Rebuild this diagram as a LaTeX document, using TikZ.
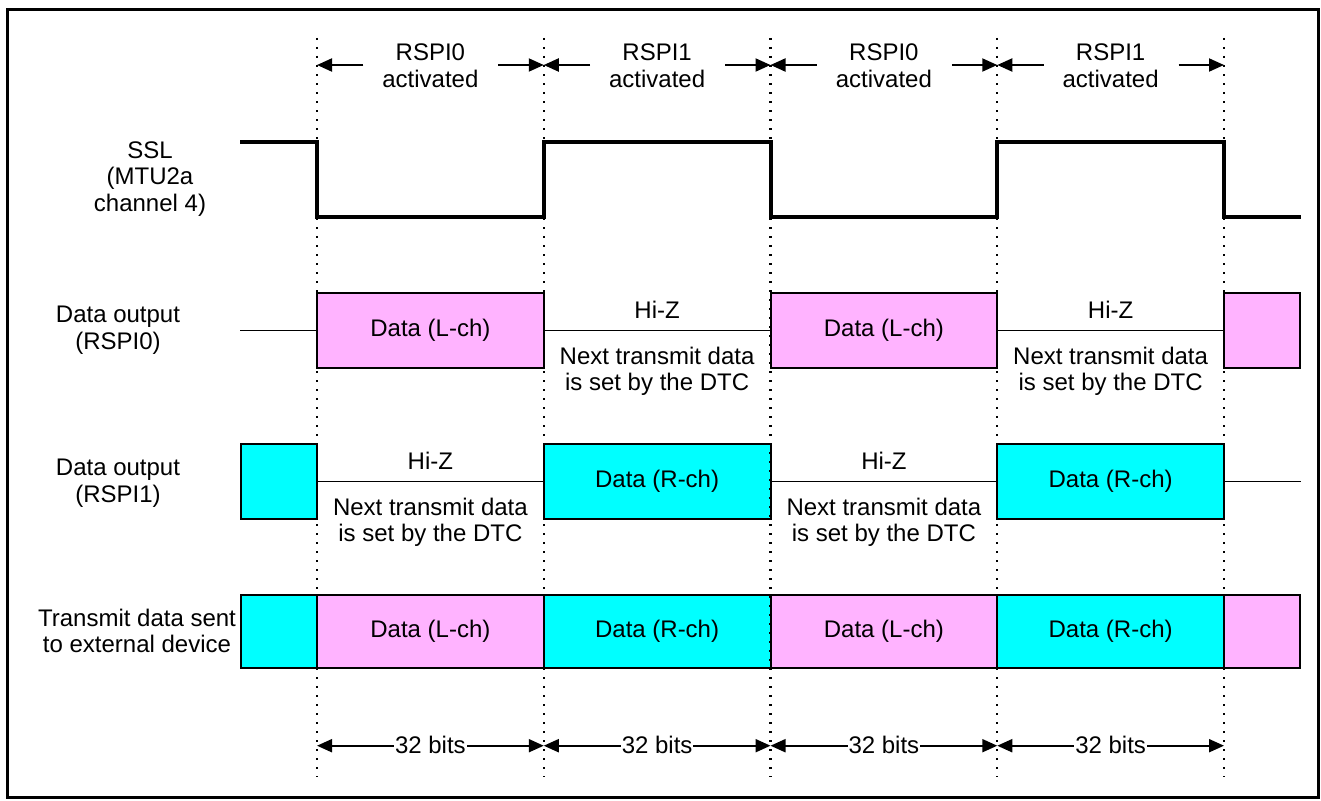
\documentclass[tikz,border=0pt]{standalone}
\usepackage{fontspec}
\setmainfont{Liberation Sans}
\usetikzlibrary{arrows.meta}
\definecolor{pinkL}{RGB}{255,179,255}
\definecolor{cyanR}{RGB}{0,255,255}
\tikzset{
  lbl/.style={font=\fontsize{24}{26.5}\selectfont, align=center, inner sep=0pt},
  databox/.style={draw=black, line width=2pt},
  lbox/.style={databox, fill=pinkL},
  rbox/.style={databox, fill=cyanR},
  hiz/.style={line width=1.6pt},
  sigline/.style={line width=4pt, miter limit=10},
  dotline/.style={line width=2.4pt, dash pattern=on 2.4pt off 6.6pt},
  arr/.style={-{Triangle[length=15pt,width=13pt]}, line width=2pt},
  dimarr/.style={{Triangle[length=15pt,width=13pt]}-{Triangle[length=15pt,width=13pt]}, line width=2pt},
  frameline/.style={line width=3.5pt}
}
\begin{document}
\begin{tikzpicture}[x=1pt,y=-1pt]
\useasboundingbox (0,0) rectangle (1321,800);
\coordinate (fr0) at (7.5,9.5);
\coordinate (fr1) at (1318.5,797.5);
\draw[frameline] (fr0) rectangle (fr1);

% ---------- left labels (anchor=base is the last line's baseline) ----------
\node[lbl, anchor=base] (lssl) at (150,211) {SSL\\(MTU2a\\channel 4)};
\node[lbl, anchor=base] (lr0) at (118,349) {Data output\\(RSPI0)};
\node[lbl, anchor=base] (lr1) at (118,502) {Data output\\(RSPI1)};
\node[lbl, anchor=base] (ltx) at (137,652.7) {Transmit data sent\\to external device};

% ---------- SSL waveform ----------
\coordinate (s0) at (240,142);
\coordinate (s9) at (1301,216.5);
\draw[sigline] (s0) -- (317,142) -- (317,216.5) -- (543.75,216.5) -- (543.75,142)
  -- (770.5,142) -- (770.5,216.5) -- (997.25,216.5) -- (997.25,142)
  -- (1224,142) -- (1224,216.5) -- (s9);

% ---------- Data output (RSPI0) ----------
\coordinate (r0a) at (240,330.5);
\coordinate (r0b) at (317,330.5);
\draw[hiz] (r0a) -- (r0b);
\draw[lbox] (317,293) rectangle (543.75,368);
\node[lbl] (d0a) at (430.4,330.5) {Data (L-ch)};
\coordinate (r0c) at (543.75,330.5);
\coordinate (r0d) at (770.5,330.5);
\draw[hiz] (r0c) -- (r0d);
\node[lbl, anchor=base] (hz0a) at (657.1,318) {Hi-Z};
\node[lbl, anchor=base] (nx0a) at (657.1,390.5) {Next transmit data\\is set by the DTC};
\draw[lbox] (770.5,293) rectangle (997.25,368);
\node[lbl] (d0b) at (883.9,330.5) {Data (L-ch)};
\coordinate (r0e) at (997.25,330.5);
\coordinate (r0f) at (1224,330.5);
\draw[hiz] (r0e) -- (r0f);
\node[lbl, anchor=base] (hz0b) at (1110.6,318) {Hi-Z};
\node[lbl, anchor=base] (nx0b) at (1110.6,390.5) {Next transmit data\\is set by the DTC};
\draw[lbox] (1224,293) rectangle (1300,368);

% ---------- Data output (RSPI1) ----------
\draw[rbox] (241,444) rectangle (317,519);
\coordinate (r1a) at (317,481.5);
\coordinate (r1b) at (543.75,481.5);
\draw[hiz] (r1a) -- (r1b);
\node[lbl, anchor=base] (hz1a) at (430.4,469.5) {Hi-Z};
\node[lbl, anchor=base] (nx1a) at (430.4,541.5) {Next transmit data\\is set by the DTC};
\draw[rbox] (543.75,444) rectangle (770.5,519);
\node[lbl] (d1a) at (657.1,481.5) {Data (R-ch)};
\coordinate (r1c) at (770.5,481.5);
\coordinate (r1d) at (997.25,481.5);
\draw[hiz] (r1c) -- (r1d);
\node[lbl, anchor=base] (hz1b) at (883.9,469.5) {Hi-Z};
\node[lbl, anchor=base] (nx1b) at (883.9,541.5) {Next transmit data\\is set by the DTC};
\draw[rbox] (997.25,444) rectangle (1224,519);
\node[lbl] (d1b) at (1110.6,481.5) {Data (R-ch)};
\coordinate (r1e) at (1224,481.5);
\coordinate (r1f) at (1301,481.5);
\draw[hiz] (r1e) -- (r1f);

% ---------- Transmit data ----------
\draw[rbox] (241,595) rectangle (317,668);
\draw[lbox] (317,595) rectangle (543.75,668);
\node[lbl] (t1) at (430.4,631.5) {Data (L-ch)};
\draw[rbox] (543.75,595) rectangle (770.5,668);
\node[lbl] (t2) at (657.1,631.5) {Data (R-ch)};
\draw[lbox] (770.5,595) rectangle (997.25,668);
\node[lbl] (t3) at (883.9,631.5) {Data (L-ch)};
\draw[rbox] (997.25,595) rectangle (1224,668);
\node[lbl] (t4) at (1110.6,631.5) {Data (R-ch)};
\draw[lbox] (1224,595) rectangle (1300,668);

% ---------- dotted time markers ----------
\foreach \i/\x in {0/317,1/543.75,2/770.5,3/997.25,4/1224} {
  \coordinate (vt\i) at (\x,38);
  \coordinate (vb\i) at (\x,777);
  \coordinate (ta\i) at (\x,65);
  \coordinate (ba\i) at (\x,745.7);
  \draw[dotline] (vt\i) -- (vb\i);
}

% ---------- top "activated" labels and arrows ----------
\foreach \i/\j/\m/\nm in {0/1/430.4/RSPI0,1/2/657.1/RSPI1,2/3/883.9/RSPI0,3/4/1110.6/RSPI1} {
  \node[lbl, anchor=base] (act\i) at (\m,87) {\nm\\activated};
  \coordinate (al\i) at (\m-67,65);
  \coordinate (ar\i) at (\m+68,65);
  \draw[arr] (al\i) -- (ta\i);
  \draw[arr] (ar\i) -- (ta\j);
}

% ---------- bottom "32 bits" dimension arrows ----------
\foreach \i/\j/\m in {0/1/430.4,1/2/657.1,2/3/883.9,3/4/1110.6} {
  \draw[dimarr] (ba\i) -- (ba\j);
  \node[lbl, anchor=base, fill=white, inner xsep=1pt] (bits\i) at (\m,753) {32 bits};
}
\end{tikzpicture}
\end{document}
